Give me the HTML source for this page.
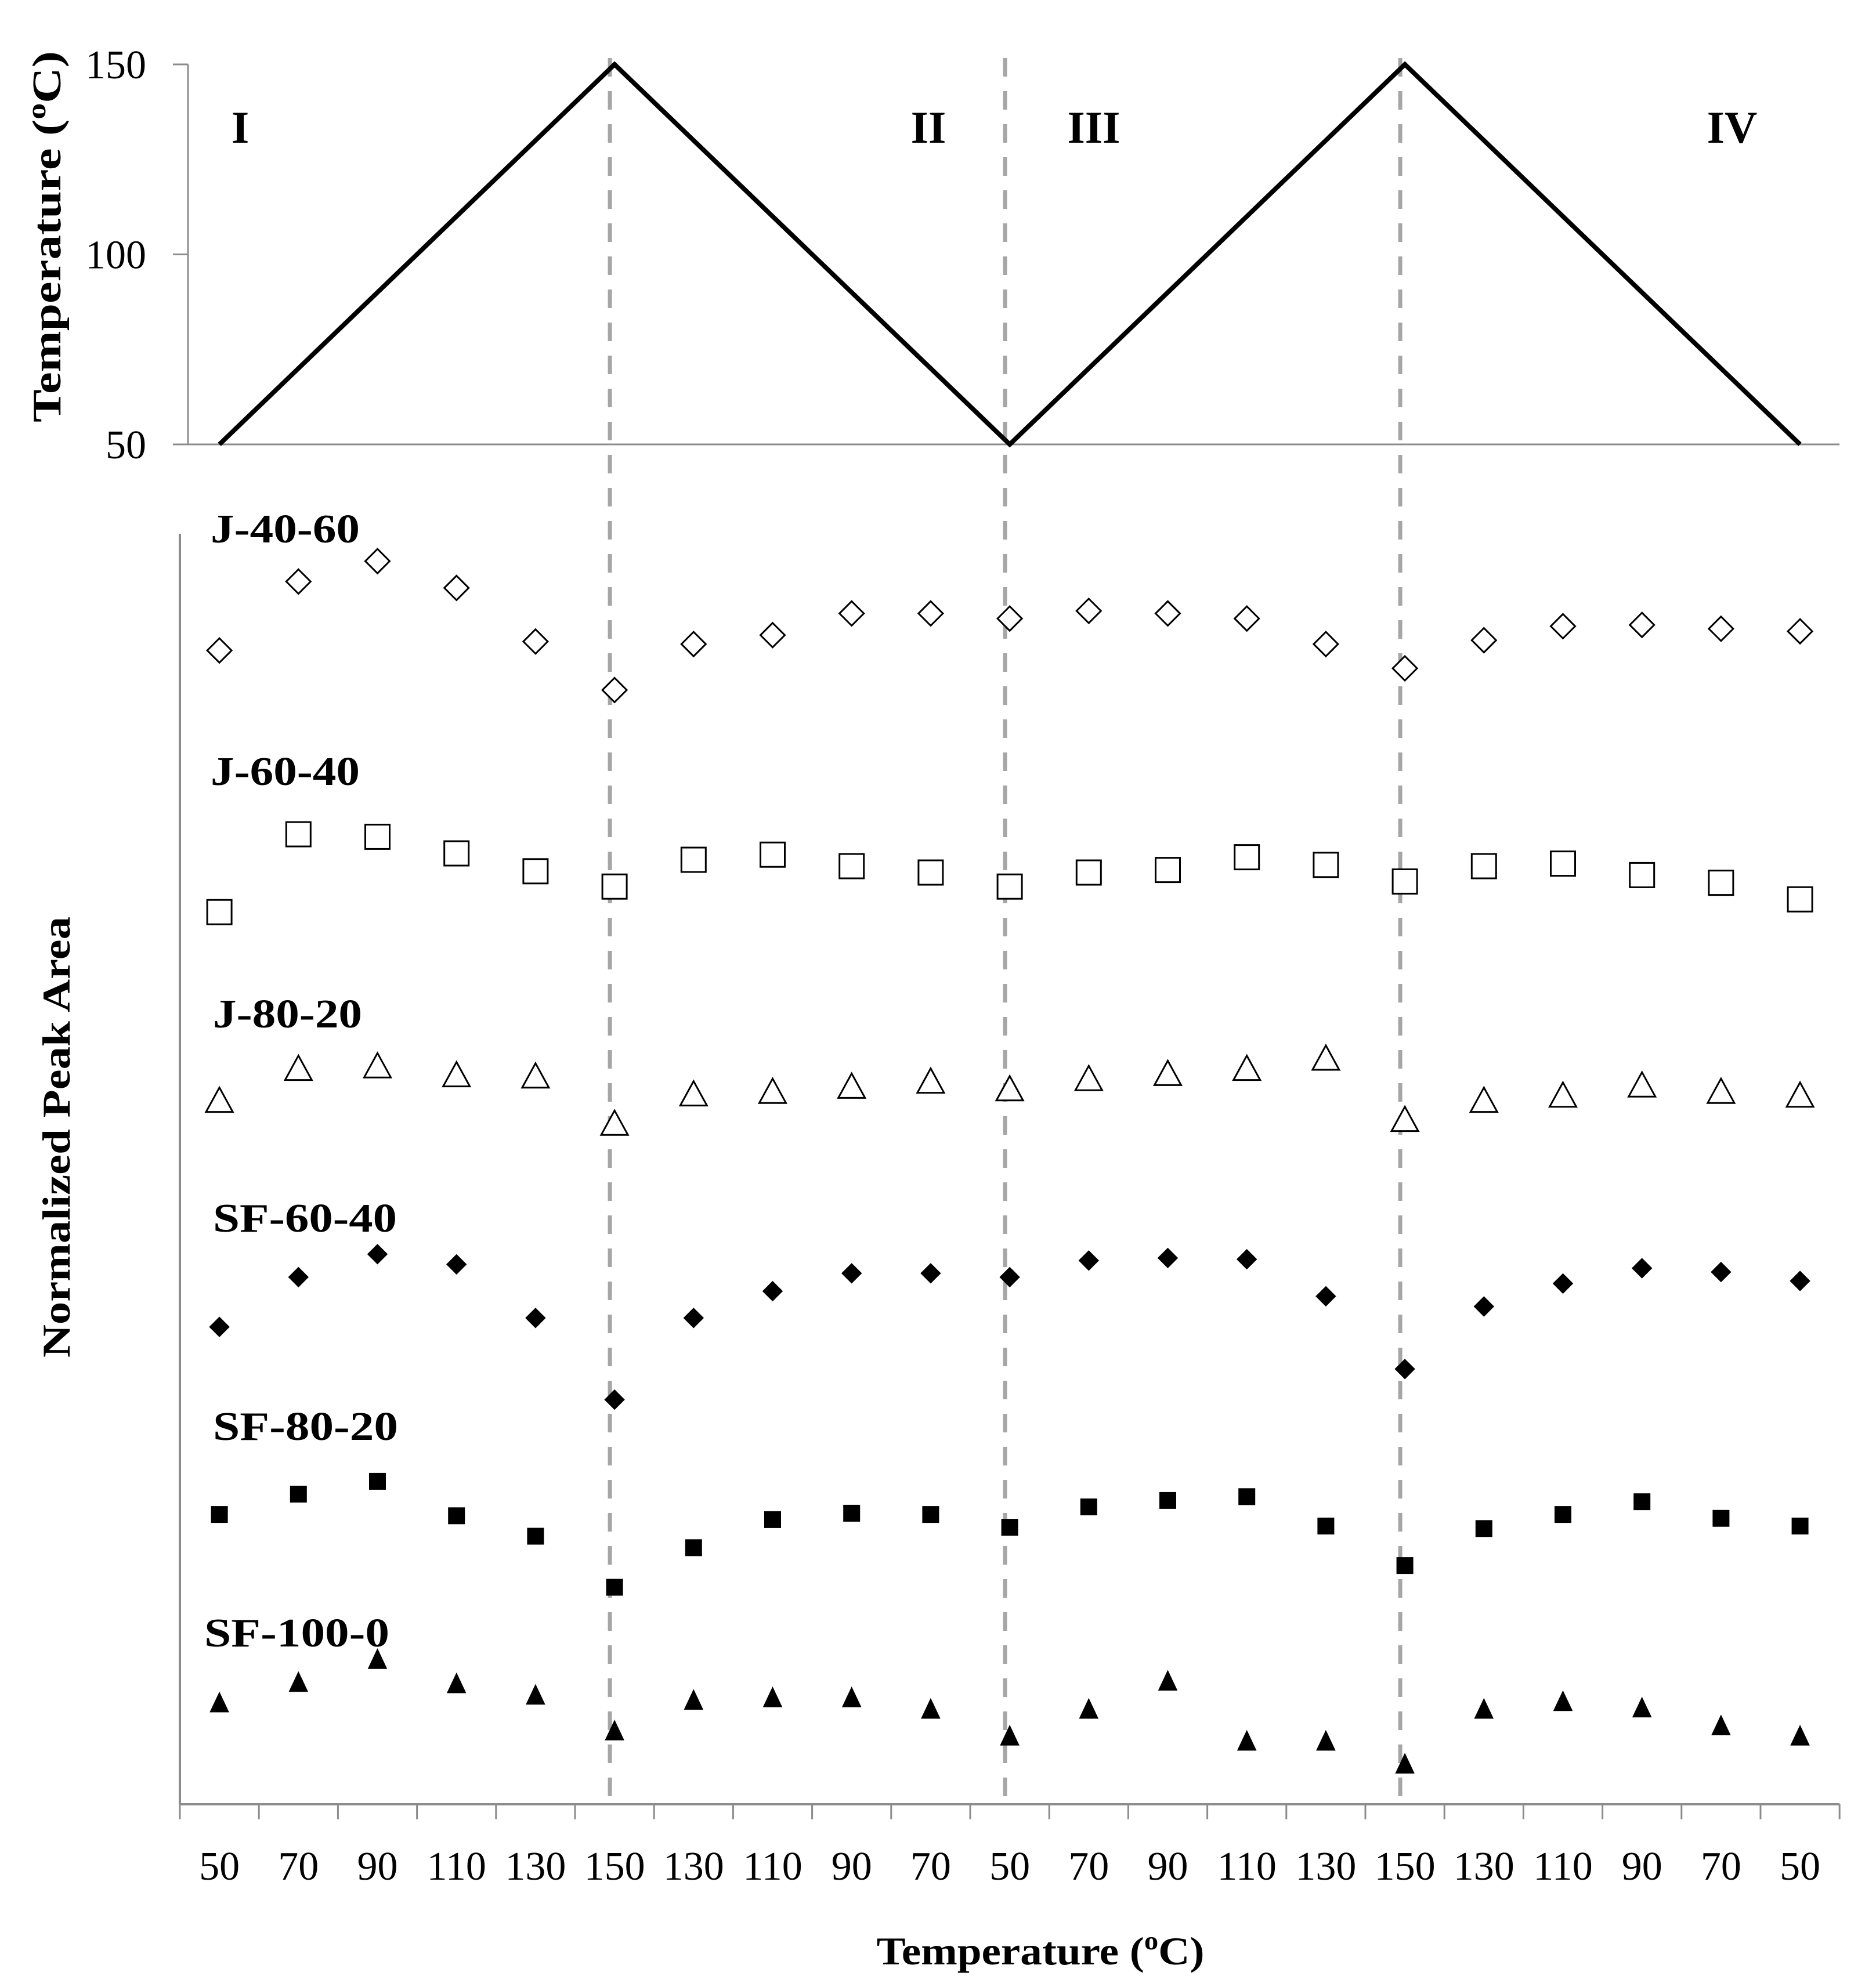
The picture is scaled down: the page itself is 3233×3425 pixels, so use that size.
<!DOCTYPE html>
<html><head><meta charset="utf-8">
<style>
html,body{margin:0;padding:0;background:#fff;}
svg{display:block;font-family:"Liberation Serif",serif;}
</style></head>
<body>
<svg id="chart" width="3233" height="3425" viewBox="0 0 3233 3425" xmlns="http://www.w3.org/2000/svg">
<rect width="3233" height="3425" fill="#fff"/>
<g id="topAxes"></g>
<g id="bottomAxes"></g>
<g id="dashes"></g>
<g id="tempLine"></g>
<g id="marks"></g>
<g font-weight="bold" font-size="78" text-anchor="middle">
<text x="414" y="246">I</text>
<text x="1600" y="246">II</text>
<text x="1885" y="246">III</text>
<text x="2985" y="246">IV</text>
</g>
<g font-weight="bold" font-size="70">
<text x="363" y="935" textLength="257" lengthAdjust="spacingAndGlyphs">J-40-60</text>
<text x="363" y="1353" textLength="257" lengthAdjust="spacingAndGlyphs">J-60-40</text>
<text x="367" y="1771" textLength="257" lengthAdjust="spacingAndGlyphs">J-80-20</text>
<text x="367" y="2123" textLength="317" lengthAdjust="spacingAndGlyphs">SF-60-40</text>
<text x="367" y="2482" textLength="319" lengthAdjust="spacingAndGlyphs">SF-80-20</text>
<text x="352" y="2838" textLength="319" lengthAdjust="spacingAndGlyphs">SF-100-0</text>
</g>
<text transform="translate(104,408) rotate(-90)" text-anchor="middle" font-weight="bold" font-size="70" textLength="640" lengthAdjust="spacingAndGlyphs">Temperature (<tspan font-size="46" dy="-26">o</tspan><tspan dy="26">C)</tspan></text>
<text transform="translate(120,1960) rotate(-90)" text-anchor="middle" font-weight="bold" font-size="68" textLength="760" lengthAdjust="spacingAndGlyphs">Normalized Peak Area</text>
<text x="1793" y="3386" text-anchor="middle" font-weight="bold" font-size="68" textLength="565" lengthAdjust="spacingAndGlyphs">Temperature (<tspan font-size="44" dy="-26">o</tspan><tspan dy="26">C)</tspan></text>
</svg>
<script>
const categories = [50,70,90,110,130,150,130,110,90,70,50,70,90,110,130,150,130,110,90,70,50];
const tempTicks = [50,100,150];
const dividerIndex = [5,10,15];
const j4060 = [904,958,974,953,911,873,909,916,933,933,929,935,933,929,909,890,912,923,924,921,919];
const j6040 = [699,760,758,745,731,719,740,744,735,730,719,730,732,742,736,723,735,737,728,722,709];
const j8020 = [552,577,579,572,571,534,557,559,563,567,561,569,573,577,585,537,552,556,564,559,556];
const sf6040 = [374,413,431,423,381,317,381,402,416,416,413,426,428,427,398,341,390,408,420,417,410];
const sf8020 = [227,243,253,226,210,170,201,223,228,227,217,233,238,241,218,187,216,227,237,224,218];
const sf1000 = [80,96,114,95,86,58,82,84,84,75,54,75,97,50,50,32,75,81,76,62,54];

const NS="http://www.w3.org/2000/svg";
function mk(tag, attrs, parent){const e=document.createElementNS(NS,tag);for(const k in attrs)e.setAttribute(k,attrs[k]);parent.appendChild(e);return e;}
const X0=310, STEP=136.2;
function xPos(i){return X0+STEP*(i+0.5);}
function yTop(t){return 766-(t-50)*(766-111)/100;}
function yBot(v){return 3110-v*2.2;}
const gray="#8c8c8c";
const XEND=X0+STEP*categories.length;

const ta=document.getElementById('topAxes');
let e=mk('line',{x1:324,y1:111,x2:324,y2:766,stroke:gray,'stroke-width':3},ta);


e=mk('line',{x1:298,y1:766,x2:XEND,y2:766,stroke:gray,'stroke-width':3},ta);


tempTicks.forEach(t=>{
  const y=yTop(t);
  let l=mk('line',{x1:298,y1:y,x2:324,y2:y,stroke:gray,'stroke-width':3},ta);
  
  
  let tx=mk('text',{x:252,y:y+24,'text-anchor':'end','font-size':70},ta);
  
  
  tx.textContent=t;
});

const ba=document.getElementById('bottomAxes');
e=mk('line',{x1:310,y1:920,x2:310,y2:3110,stroke:gray,'stroke-width':4},ba);


e=mk('line',{x1:310,y1:3110,x2:XEND,y2:3110,stroke:gray,'stroke-width':4},ba);


for(let i=0;i<=categories.length;i++){
  let l=mk('line',{x1:X0+STEP*i,y1:3110,x2:X0+STEP*i,y2:3136,stroke:gray,'stroke-width':3},ba);
  
  
}
categories.forEach((c,i)=>{
  let tx=mk('text',{x:xPos(i),y:3240,'text-anchor':'middle','font-size':70},ba);
  
  
  tx.textContent=c;
});

const dg=document.getElementById('dashes');
dividerIndex.forEach(i=>{
  let l=mk('line',{x1:xPos(i)-8,y1:100,x2:xPos(i)-8,y2:3110,stroke:'#a6a6a6','stroke-width':7,'stroke-dasharray':'32 25'},dg);
  
  
});

const tl=document.getElementById('tempLine');
const pts=categories.map((c,i)=>xPos(i)+','+yTop(c)).join(' ');
e=mk('polyline',{points:pts,fill:'none',stroke:'#000','stroke-width':8,'stroke-linejoin':'miter'},tl);



const mg=document.getElementById('marks');
function marker(shape,filled,x,y,parent){
  const fill=filled?'#000':'#fff';
  const sw=filled?1:3;
  let el;
  if(shape==='diamond'){const r=filled?17:21;el=mk('polygon',{points:`${x},${y-r} ${x+r},${y} ${x},${y+r} ${x-r},${y}`,fill,stroke:'#000','stroke-width':sw},parent);}
  else if(shape==='square'){const r=filled?14:21;el=mk('rect',{x:x-r,y:y-r,width:2*r,height:2*r,fill,stroke:'#000','stroke-width':sw},parent);}
  else {const w=filled?16:23,h=filled?17:21;el=mk('polygon',{points:`${x},${y-h} ${x+w},${y+h} ${x-w},${y+h}`,fill,stroke:'#000','stroke-width':sw},parent);}
  return el;
}
const seriesList=[
  ['j-40-60',j4060,'diamond',false],
  ['j-60-40',j6040,'square',false],
  ['j-80-20',j8020,'triangle',false],
  ['sf-60-40',sf6040,'diamond',true],
  ['sf-80-20',sf8020,'square',true],
  ['sf-100-0',sf1000,'triangle',true]
];
seriesList.forEach(s=>{
  const g=mk('g',{},mg);
  
  
  s[1].forEach((v,i)=>{
    const m=marker(s[2],s[3],xPos(i),yBot(v),g);
    
    
  });
});
</script>
</body></html>
